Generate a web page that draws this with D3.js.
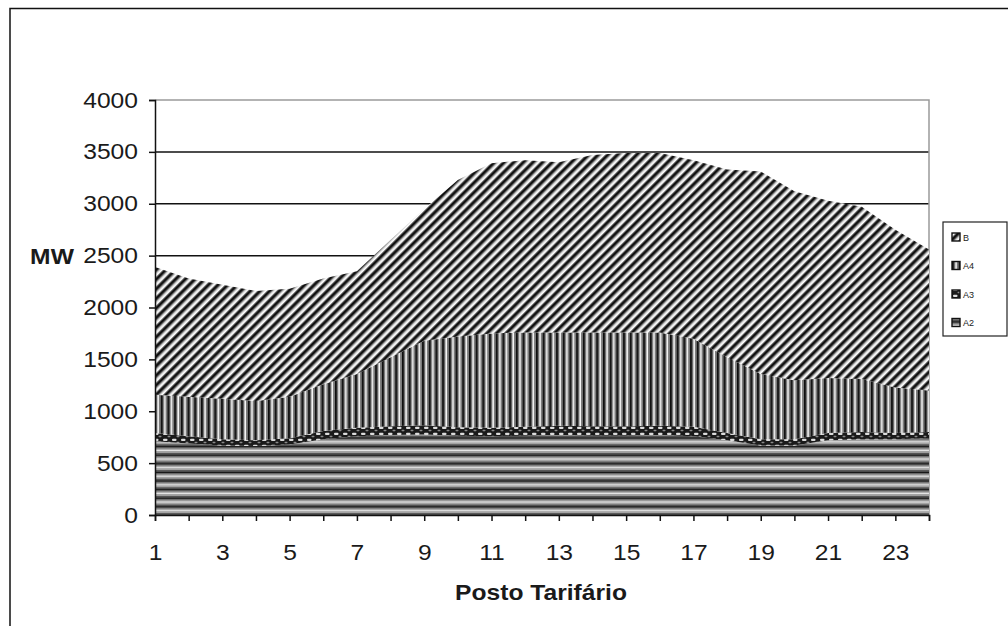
<!DOCTYPE html>
<html>
<head>
<meta charset="utf-8">
<script src="https://cdn.jsdelivr.net/npm/d3@7/dist/d3.min.js"></script>
<style>
  html, body { margin: 0; padding: 0; background: #fff; }
  svg { display: block; }
  text { font-family: "Liberation Sans", Arial, sans-serif; fill: #1a1a1a; }
</style>
</head>
<body>
<svg id="chart" width="1008" height="626"></svg>
<script>
// Hourly load by tariff class (MW), stacked bottom to top: A2, A3, A4, B
const hours = d3.range(1, 25);
const A2 = [710, 690, 670, 665, 680, 730, 760, 770, 775, 765, 760, 765, 770, 765, 765, 770, 760, 720, 670, 670, 720, 730, 730, 740];
const A3 = [80, 70, 60, 55, 60, 80, 80, 85, 90, 80, 80, 85, 90, 90, 90, 90, 90, 70, 60, 60, 70, 70, 60, 60];
const A4 = [370, 380, 390, 380, 400, 450, 520, 665, 815, 875, 910, 910, 900, 905, 905, 900, 850, 730, 630, 570, 530, 510, 440, 400];
const B  = [1230, 1140, 1100, 1060, 1040, 1020, 990, 1130, 1270, 1510, 1640, 1660, 1640, 1710, 1730, 1730, 1720, 1810, 1950, 1820, 1710, 1660, 1520, 1360];
const seriesKeys = ["A2", "A3", "A4", "B"];
const legendOrder = ["B", "A4", "A3", "A2"];
const yTicks = [0, 500, 1000, 1500, 2000, 2500, 3000, 3500, 4000];
const xTickLabels = [1, 3, 5, 7, 9, 11, 13, 15, 17, 19, 21, 23];

const table = hours.map((h, i) => ({ hour: h, A2: A2[i], A3: A3[i], A4: A4[i], B: B[i] }));

const svg = d3.select("#chart");
const x = d3.scaleLinear().domain([1, 24]).range([155, 929]);
const y = d3.scaleLinear().domain([0, 4000]).range([515, 100]);

// slightly widened lettering
const SX = 1.12;
const FONT = "22px";

// ---- fill patterns ----
const defs = svg.append("defs");

// B: diagonal hatching
const pB = defs.append("pattern").attr("id", "patB").attr("patternUnits", "userSpaceOnUse")
  .attr("width", 6.8).attr("height", 10).attr("patternTransform", "rotate(45)");
pB.append("rect").attr("width", 6.8).attr("height", 10).attr("fill", "#fff");
pB.append("rect").attr("x", 0).attr("width", 0.9).attr("height", 10).attr("fill", "#666");
pB.append("rect").attr("x", 0.9).attr("width", 2.7).attr("height", 10).attr("fill", "#111");
pB.append("rect").attr("x", 3.6).attr("width", 0.9).attr("height", 10).attr("fill", "#666");
pB.append("rect").attr("x", 4.5).attr("width", 1.6).attr("height", 10).attr("fill", "#eee");

// A4: vertical stripes
const pA4 = defs.append("pattern").attr("id", "patA4").attr("patternUnits", "userSpaceOnUse")
  .attr("width", 6.7).attr("height", 10);
pA4.append("rect").attr("width", 6.7).attr("height", 10).attr("fill", "#8a8a8a");
pA4.append("rect").attr("x", 0).attr("width", 1.8).attr("height", 10).attr("fill", "#0e0e0e");
pA4.append("rect").attr("x", 1.8).attr("width", 0.9).attr("height", 10).attr("fill", "#4a4a4a");
pA4.append("rect").attr("x", 2.7).attr("width", 1.1).attr("height", 10).attr("fill", "#c4c4c4");
pA4.append("rect").attr("x", 3.8).attr("width", 1.1).attr("height", 10).attr("fill", "#f6f6f6");
pA4.append("rect").attr("x", 4.9).attr("width", 1.8).attr("height", 10).attr("fill", "#7a7a7a");

// A3: dark band with light flecks
const pA3 = defs.append("pattern").attr("id", "patA3").attr("patternUnits", "userSpaceOnUse")
  .attr("width", 9).attr("height", 6);
pA3.append("rect").attr("width", 9).attr("height", 6).attr("fill", "#1a1a1a");
pA3.append("rect").attr("x", 1).attr("y", 0.8).attr("width", 4.5).attr("height", 2.2).attr("rx", 1).attr("fill", "#dcdcdc");
pA3.append("rect").attr("x", 5.5).attr("y", 3.8).attr("width", 3).attr("height", 1.5).attr("rx", 0.7).attr("fill", "#8a8a8a");

// A2: horizontal stripes
const pA2 = defs.append("pattern").attr("id", "patA2").attr("patternUnits", "userSpaceOnUse")
  .attr("width", 10).attr("height", 8.6).attr("y", 515);
pA2.append("rect").attr("width", 10).attr("height", 8.6).attr("fill", "#8a8a8a");
pA2.append("rect").attr("y", 0).attr("width", 10).attr("height", 1.5).attr("fill", "#161616");
pA2.append("rect").attr("y", 1.5).attr("width", 10).attr("height", 1.9).attr("fill", "#8c8c8c");
pA2.append("rect").attr("y", 3.4).attr("width", 10).attr("height", 1.5).attr("fill", "#e4e4e4");
pA2.append("rect").attr("y", 4.9).attr("width", 10).attr("height", 1.9).attr("fill", "#a4a4a4");
pA2.append("rect").attr("y", 6.8).attr("width", 10).attr("height", 1.8).attr("fill", "#4c4c4c");

const fills = { A2: "url(#patA2)", A3: "url(#patA3)", A4: "url(#patA4)", B: "url(#patB)" };

// ---- outer frame ----
svg.append("path").attr("d", "M10,626 V8.5 H1008")
  .attr("fill", "none").attr("stroke", "#111").attr("stroke-width", 1.5);

// ---- gridlines ----
svg.append("g").selectAll("line").data(yTicks.filter(v => v > 0 && v < 4000)).join("line")
  .attr("x1", x(1)).attr("x2", x(24)).attr("y1", d => y(d)).attr("y2", d => y(d))
  .attr("stroke", "#111").attr("stroke-width", 1.5);

// plot area top/right border
svg.append("path").attr("d", `M${x(1)},${y(4000)} H${x(24)} V${y(0)}`)
  .attr("fill", "none").attr("stroke", "#9a9a9a").attr("stroke-width", 1.5);

// ---- stacked areas ----
const stack = d3.stack().keys(seriesKeys);
const layers = stack(table);
const area = d3.area().x(d => x(d.data.hour)).y0(d => y(d[0])).y1(d => y(d[1]));
svg.append("g").selectAll("path").data(layers).join("path")
  .attr("d", area).attr("fill", d => fills[d.key]);

// ---- axes ----
const yAxis = d3.axisLeft(y).tickValues(yTicks).tickSize(6).tickPadding(10).tickFormat(d3.format("d"));
const gy = svg.append("g").attr("transform", `translate(${x(1)},0)`).call(yAxis);
gy.select(".domain").attr("stroke", "#111").attr("stroke-width", 1.5);
gy.selectAll(".tick line").attr("stroke", "#111").attr("stroke-width", 1.5);
gy.selectAll(".tick text").style("font-size", FONT).attr("fill", "#1a1a1a")
  .attr("x", -17 / SX).attr("transform", `scale(${SX},1)`);

const xAxis = d3.axisBottom(x).tickValues(hours).tickSize(6).tickPadding(23)
  .tickFormat(d => xTickLabels.includes(d) ? d : "");
const gx = svg.append("g").attr("transform", `translate(0,${y(0)})`).call(xAxis);
gx.select(".domain").attr("stroke", "#111").attr("stroke-width", 1.5);
gx.selectAll(".tick line").attr("stroke", "#111").attr("stroke-width", 1.5);
gx.selectAll(".tick text").style("font-size", FONT).attr("fill", "#1a1a1a")
  .attr("transform", `scale(${SX},1)`);

// ---- axis titles ----
svg.append("text").attr("x", 52 / SX).attr("y", 264).attr("text-anchor", "middle")
  .attr("transform", `scale(${SX},1)`)
  .style("font-size", FONT).style("font-weight", "bold").text("MW");
svg.append("text").attr("x", 541 / SX).attr("y", 600).attr("text-anchor", "middle")
  .attr("transform", `scale(${SX},1)`)
  .style("font-size", FONT).style("font-weight", "bold").text("Posto Tarifário");

// ---- legend ----
const lg = svg.append("g");
lg.append("rect").attr("x", 943).attr("y", 222).attr("width", 64).attr("height", 114)
  .attr("fill", "#fff").attr("stroke", "#222").attr("stroke-width", 1.2);
const items = lg.selectAll("g.item").data(legendOrder).join("g").attr("class", "item")
  .attr("transform", (d, i) => `translate(952,${237 + i * 28.5})`);
items.append("rect").attr("x", 0).attr("y", -4).attr("width", 8).attr("height", 8)
  .attr("fill", d => fills[d]).attr("stroke", "#111").attr("stroke-width", 1.4);
items.append("text").attr("x", 11).attr("y", 3.5).style("font-size", "9px").attr("fill", "#666").text(d => d);
</script>
</body>
</html>
